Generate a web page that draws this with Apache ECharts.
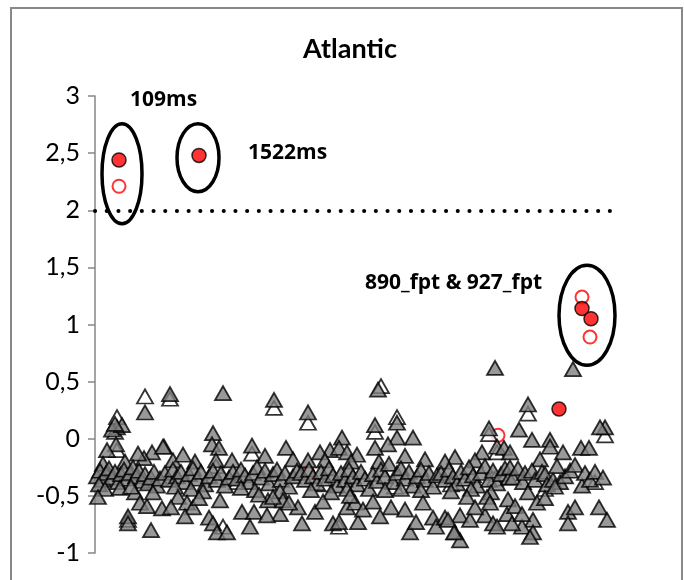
<!DOCTYPE html>
<html>
<head>
<meta charset="utf-8">
<script src="https://cdn.jsdelivr.net/npm/echarts@6/dist/echarts.min.js"></script>
<style>html,body{margin:0;padding:0;background:#fff;}#c{width:684px;height:580px;}</style>
</head>
<body>
<div id="c"></div>
<script>
// ---- data (x = sample position, y = value) ----
const yMin = -1, yMax = 3, yStep = 0.5;
const threshold = 2;
const greyPts = [
[22,0.10],[17,0.08],[27,0.12],[20,0.13],[50,0.23],[75,0.39],
[21,-0.05],[12,-0.10],[69,-0.07],[57,-0.12],[49,-0.17],[43,-0.13],[30,-0.20],[8,-0.22],
[2,-0.33],[5,-0.28],[8,-0.36],[11,-0.30],[14,-0.26],[17,-0.34],[20,-0.29],[23,-0.38],[26,-0.31],[29,-0.27],[32,-0.35],[35,-0.30],[38,-0.25],[41,-0.33],[44,-0.28],[47,-0.37],[50,-0.31],[53,-0.39],[56,-0.34],[59,-0.29],[62,-0.41],[65,-0.35],[4,-0.40],[10,-0.44],[25,-0.43],
[3,-0.51],[40,-0.47],[45,-0.56],[52,-0.59],[33,-0.68],[33,-0.74],[56,-0.80],[67,-0.61],[58,-0.47],[36,-0.42],
[128,0.40],
[118,0.05],[117,-0.05],[124,-0.08],[121,-0.19],[68,-0.07],[78,-0.19],[88,-0.14],[100,-0.20],
[70,-0.30],[74,-0.36],[78,-0.27],[82,-0.33],[86,-0.29],[90,-0.38],[94,-0.31],[98,-0.26],[102,-0.35],[106,-0.29],[110,-0.40],[114,-0.33],[118,-0.28],[122,-0.36],[126,-0.30],[130,-0.41],[134,-0.34],[80,-0.42],[96,-0.44],[108,-0.46],
[83,-0.51],[92,-0.56],[98,-0.60],[90,-0.68],[114,-0.69],[118,-0.74],[122,-0.82],[132,-0.82],[125,-0.54],[104,-0.52],[76,-0.60],
[179,0.34],
[157,-0.06],[191,-0.08],[137,-0.19],[170,-0.15],[198,-0.18],
[138,-0.29],[142,-0.35],[146,-0.27],[150,-0.32],[154,-0.38],[158,-0.30],[162,-0.25],[166,-0.34],[170,-0.28],[174,-0.39],[178,-0.31],[182,-0.27],[186,-0.36],[190,-0.30],[194,-0.42],[198,-0.33],[202,-0.28],[146,-0.43],[160,-0.45],[185,-0.46],
[147,-0.64],[159,-0.64],[155,-0.77],[173,-0.54],[185,-0.66],[188,-0.54],[164,-0.49],[178,-0.51],[203,-0.60],[207,-0.74],[172,-0.67],[194,-0.56],
[213,0.23],[280,0.12],[283,0.43],
[247,0.01],[235,-0.10],[244,-0.08],[252,-0.12],[262,-0.14],[225,-0.12],[213,-0.19],[230,-0.19],[256,-0.20],
[206,-0.30],[210,-0.36],[214,-0.27],[218,-0.33],[222,-0.39],[226,-0.29],[230,-0.35],[234,-0.26],[238,-0.32],[242,-0.41],[246,-0.30],[250,-0.36],[254,-0.27],[258,-0.33],[262,-0.40],[266,-0.29],[270,-0.35],[274,-0.44],[216,-0.45],[236,-0.47],[252,-0.44],
[220,-0.64],[238,-0.74],[244,-0.73],[252,-0.60],[260,-0.56],[263,-0.73],[255,-0.50],[228,-0.55],[268,-0.62],
[302,0.14],[318,0.01],[302,0.01],[293,-0.05],[280,-0.08],[310,-0.15],[330,-0.18],[284,-0.20],
[278,-0.31],[282,-0.37],[286,-0.27],[290,-0.33],[294,-0.22],[298,-0.38],[302,-0.30],[306,-0.26],[310,-0.35],[314,-0.29],[318,-0.41],[322,-0.33],[326,-0.27],[330,-0.36],[334,-0.30],[338,-0.42],[342,-0.32],[290,-0.45],[306,-0.44],[326,-0.45],
[278,-0.55],[315,-0.82],[321,-0.73],[328,-0.56],[338,-0.69],[341,-0.77],[296,-0.60],[285,-0.68],[310,-0.62],
[400,0.62],[394,0.09],
[402,-0.07],[409,-0.08],[387,-0.12],[380,-0.19],[360,-0.16],[350,-0.20],
[346,-0.30],[350,-0.36],[354,-0.27],[358,-0.33],[362,-0.39],[366,-0.29],[370,-0.35],[374,-0.25],[378,-0.32],[382,-0.41],[386,-0.30],[390,-0.24],[394,-0.36],[398,-0.28],[402,-0.39],[406,-0.31],[410,-0.26],[414,-0.34],[356,-0.46],[376,-0.44],[396,-0.47],
[350,-0.69],[360,-0.82],[365,-0.67],[365,-0.89],[353,-0.71],[359,-0.82],[375,-0.71],[372,-0.51],[392,-0.51],[390,-0.67],[398,-0.74],[413,-0.53],[412,-0.66],[402,-0.77],[380,-0.60],[395,-0.56],
[433,0.30],[478,0.61],[510,0.10],[505,0.10],
[424,0.08],[437,-0.01],[455,-0.01],[455,-0.07],[468,-0.12],[486,-0.08],[494,-0.08],[415,-0.12],[445,-0.18],
[415,-0.25],[418,-0.34],[423,-0.26],[428,-0.38],[430,-0.30],[437,-0.28],[440,-0.36],[447,-0.29],[450,-0.31],[452,-0.40],[458,-0.36],[465,-0.38],[470,-0.33],[475,-0.28],[480,-0.23],[487,-0.41],[490,-0.30],[495,-0.36],[500,-0.29],[508,-0.34],[462,-0.24],
[460,-0.42],[433,-0.47],[442,-0.56],[420,-0.59],[473,-0.64],[480,-0.60],[504,-0.60],[512,-0.71],[473,-0.74],[438,-0.71],[427,-0.77],[417,-0.74],[438,-0.82],[435,-0.86],[427,-0.66],[450,-0.52]
];
const whitePts = [
[22,0.19],[50,0.37],[75,0.35],[22,-0.10],[179,0.27],[213,0.14],[280,0.06],[286,0.46],[302,0.19],[433,0.22],[510,0.03],
[157,-0.13],[121,-0.24],[33,-0.71],[128,-0.77],[142,-0.38],[230,-0.40],[300,-0.42],[356,-0.40],[400,-0.35],[450,-0.44],[500,-0.38],[244,-0.77],[394,0.04],[402,-0.12],[20,0.06]
];
const redFilled = [[24,2.44],[104,2.48],[487,1.14],[496,1.05],[464,0.26]];
const redHollow = [[24,2.21],[487,1.24],[495,0.89],[403,0.03],[213,-0.30]];
// annotations: label text, anchor in data units
const labels = ['109ms', '1522ms', '890_fpt & 927_fpt'];
const labelAnchors = [[35,2.965],[153,2.50],[270,1.36]];
// ellipse centres in data units
const ellipseCentres = [[27,2.32],[103,2.46],[492,1.08]];
const ellipseRadii = [[20,50],[21,34],[28,50]];

const FONT = 'Lato, "Open Sans", sans-serif';
const LFONT = '"Open Sans", Lato, sans-serif';
const chart = echarts.init(document.getElementById('c'), null, {renderer:'canvas'});
chart.setOption({
  animation: false,
  backgroundColor: '#fff',
  title: {
    text: 'Atlantic', left: 345, top: 31, textAlign: 'center',
    textStyle: {fontFamily: FONT, fontWeight: 'bold', fontSize: 27, color: '#000'}
  },
  grid: {left: 95, right: 64, top: 96, bottom: 27, containLabel: false},
  xAxis: {type: 'value', min: 0, max: 525, show: false},
  yAxis: {
    type: 'value', min: yMin, max: yMax, interval: yStep,
    axisLine: {show: true, lineStyle: {color: '#868686', width: 1.5}},
    axisTick: {show: true, length: 7, lineStyle: {color: '#868686', width: 1.5}},
    splitLine: {show: false},
    axisLabel: {
      fontFamily: FONT, fontSize: 25, color: '#000', margin: 15,
      formatter: v => String(v).replace('.', ',')
    }
  },
  series: [
    {type: 'scatter', data: redHollow, symbol: 'circle', symbolSize: 13, z: 2,
     itemStyle: {color: '#fff', borderColor: '#ff0000', borderWidth: 2}},
    {type: 'scatter', data: redFilled, symbol: 'circle', symbolSize: 14, z: 2,
     itemStyle: {color: '#ff0000', borderColor: '#000', borderWidth: 1.5}},
    {type: 'scatter', data: whitePts, symbol: 'triangle', symbolSize: [16, 14], z: 3,
     itemStyle: {color: '#fff', borderColor: '#000', borderWidth: 1.8}},
    {type: 'scatter', data: greyPts, symbol: 'triangle', symbolSize: [16, 14], z: 4,
     itemStyle: {color: '#7f7f7f', borderColor: '#000', borderWidth: 1.8},
     markLine: {
       silent: true, symbol: 'none', label: {show: false},
       lineStyle: {color: '#000', width: 4, type: [0.1, 11.6], cap: 'round'},
       data: [{yAxis: threshold}]
     }}
  ]
});

const graphics = [
  {type: 'rect', shape: {x: 11, y: 8, width: 671, height: 640}, silent: true,
   style: {fill: 'none', stroke: '#898989', lineWidth: 2}, z: 100}
];
labels.forEach((t, i) => {
  const p = chart.convertToPixel({gridIndex: 0}, labelAnchors[i]);
  graphics.push({type: 'text', x: p[0], y: p[1], z: 100,
    style: {text: t, font: 'bold 21px ' + LFONT, fill: '#000', textAlign: 'left', textVerticalAlign: 'middle'}});
});
ellipseCentres.forEach((c, i) => {
  const p = chart.convertToPixel({gridIndex: 0}, c);
  graphics.push({type: 'ellipse', z: 100, silent: true,
    shape: {cx: p[0], cy: p[1], rx: ellipseRadii[i][0], ry: ellipseRadii[i][1]},
    style: {fill: 'none', stroke: '#000', lineWidth: 3.5}});
});
chart.setOption({graphic: graphics});
</script>
</body>
</html>
